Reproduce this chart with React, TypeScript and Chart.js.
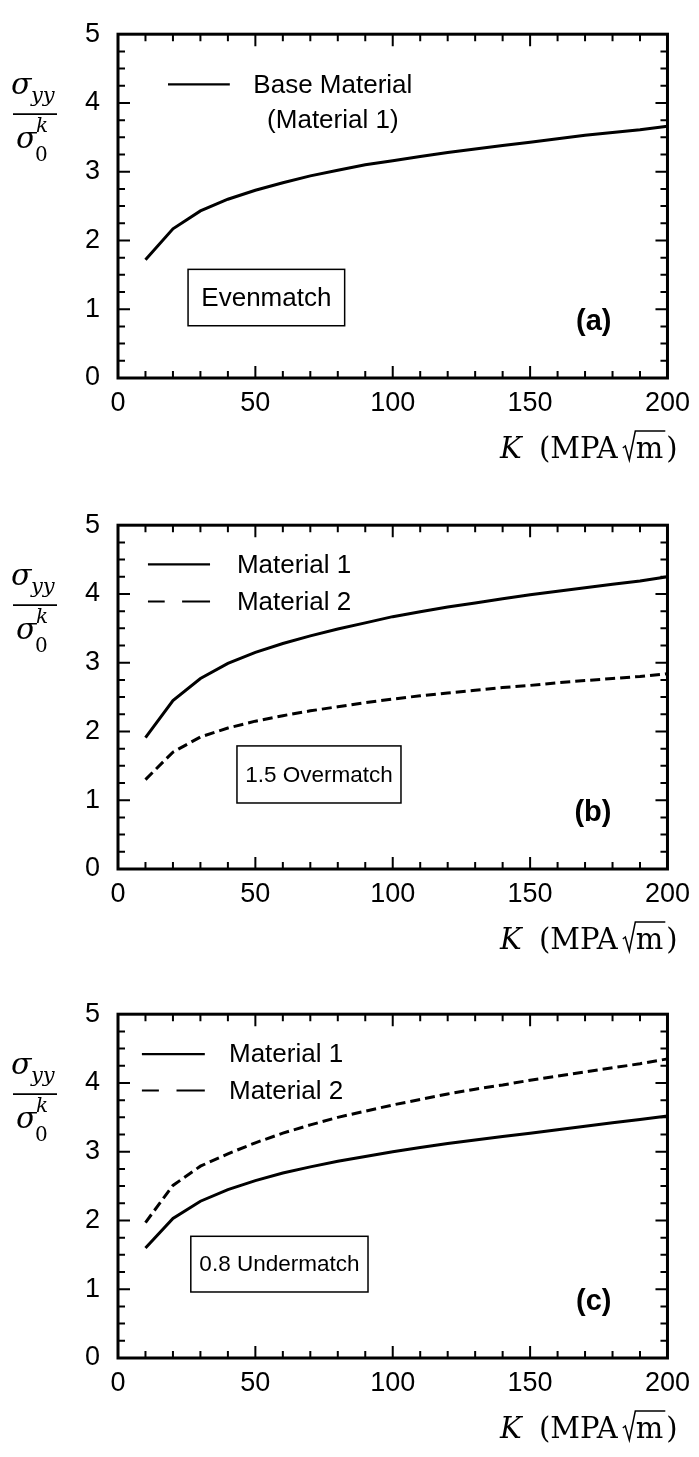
import React, { useEffect, useRef } from "react";
import { Chart, registerables } from "chart.js";

Chart.register(...registerables);

// ---------- data ----------
const kValues = [10, 20, 30, 40, 50, 60, 70, 80, 90, 100, 110, 120, 130, 140, 150, 160, 170, 180, 190, 200];

const evenBase = [1.72, 2.17, 2.43, 2.6, 2.73, 2.84, 2.94, 3.02, 3.1, 3.16, 3.22, 3.28, 3.33, 3.38, 3.43, 3.48, 3.53, 3.57, 3.61, 3.66];

const overM1 = [1.91, 2.45, 2.77, 2.99, 3.15, 3.28, 3.39, 3.49, 3.58, 3.67, 3.74, 3.81, 3.87, 3.93, 3.99, 4.04, 4.09, 4.14, 4.19, 4.25];
const overM2 = [1.3, 1.7, 1.92, 2.05, 2.15, 2.23, 2.3, 2.36, 2.42, 2.47, 2.52, 2.56, 2.6, 2.64, 2.67, 2.71, 2.74, 2.77, 2.8, 2.84];

const underM1 = [1.6, 2.03, 2.28, 2.45, 2.58, 2.69, 2.78, 2.86, 2.93, 3.0, 3.06, 3.12, 3.17, 3.22, 3.27, 3.32, 3.37, 3.42, 3.47, 3.52];
const underM2 = [1.97, 2.51, 2.79, 2.97, 3.13, 3.27, 3.39, 3.5, 3.59, 3.68, 3.76, 3.84, 3.91, 3.97, 4.04, 4.1, 4.16, 4.22, 4.28, 4.35];

const xTicks = [0, 50, 100, 150, 200];
const yTicks = [0, 1, 2, 3, 4, 5];

const panelLabels = ["(a)", "(b)", "(c)"];
const matchLabels = ["Evenmatch", "1.5 Overmatch", "0.8 Undermatch"];
const legendA = ["Base Material", "(Material 1)"];
const legendBC = ["Material 1", "Material 2"];

// ---------- layout ----------
const W = 699;
const H = 470;
const PLOT_TOP = 17;
const PLOT_H = 361;
const Y_AXIS_W = 118;
const RIGHT_PAD = 31;
const canvasTops = [0, 491, 980];

const SANS = "'Liberation Sans', Arial, Helvetica, sans-serif";
const SERIF = "'DejaVu Serif', 'Liberation Serif', serif";

type Series = { values: number[]; dashed: boolean };
type Panel = {
  series: Series[];
  label: string;
  box: { text: string; size: number; x1: number; x2: number; y1: number; y2: number };
  legend: (ctx: CanvasRenderingContext2D, xs: any, ys: any) => void;
};

function drawLegendLine(ctx: CanvasRenderingContext2D, x1: number, x2: number, y: number, dashed: boolean) {
  ctx.save();
  ctx.strokeStyle = "#000";
  ctx.lineWidth = 2.2;
  ctx.beginPath();
  if (dashed) {
    const len = x2 - x1;
    ctx.moveTo(x1, y);
    ctx.lineTo(x1 + len * 0.27, y);
    ctx.moveTo(x1 + len * 0.55, y);
    ctx.lineTo(x2, y);
  } else {
    ctx.moveTo(x1, y);
    ctx.lineTo(x2, y);
  }
  ctx.stroke();
  ctx.restore();
}

function twoLegend(lx1: number, lx2: number, ly1: number, ly2: number, tx: number) {
  return (ctx: CanvasRenderingContext2D, xs: any, ys: any) => {
    drawLegendLine(ctx, xs.getPixelForValue(lx1), xs.getPixelForValue(lx2), ys.getPixelForValue(ly1), false);
    drawLegendLine(ctx, xs.getPixelForValue(lx1), xs.getPixelForValue(lx2), ys.getPixelForValue(ly2), true);
    ctx.save();
    ctx.fillStyle = "#000";
    ctx.font = `26px ${SANS}`;
    ctx.textAlign = "left";
    ctx.textBaseline = "middle";
    ctx.fillText(legendBC[0], xs.getPixelForValue(tx), ys.getPixelForValue(ly1) + 1);
    ctx.fillText(legendBC[1], xs.getPixelForValue(tx), ys.getPixelForValue(ly2) + 1);
    ctx.restore();
  };
}

const panels: Panel[] = [
  {
    series: [{ values: evenBase, dashed: false }],
    label: panelLabels[0],
    box: { text: matchLabels[0], size: 26, x1: 25.5, x2: 82.5, y1: 1.58, y2: 0.76 },
    legend: (ctx, xs, ys) => {
      drawLegendLine(ctx, xs.getPixelForValue(18.2), xs.getPixelForValue(40.7), ys.getPixelForValue(4.27), false);
      ctx.save();
      ctx.fillStyle = "#000";
      ctx.font = `26px ${SANS}`;
      ctx.textAlign = "center";
      ctx.textBaseline = "middle";
      ctx.fillText(legendA[0], xs.getPixelForValue(78.2), ys.getPixelForValue(4.27) + 1);
      ctx.fillText(legendA[1], xs.getPixelForValue(78.2), ys.getPixelForValue(3.75) + 1);
      ctx.restore();
    },
  },
  {
    series: [
      { values: overM1, dashed: false },
      { values: overM2, dashed: true },
    ],
    label: panelLabels[1],
    box: { text: matchLabels[1], size: 22.5, x1: 43.3, x2: 103, y1: 1.79, y2: 0.96 },
    legend: twoLegend(10.9, 33.5, 4.43, 3.89, 43.3),
  },
  {
    series: [
      { values: underM1, dashed: false },
      { values: underM2, dashed: true },
    ],
    label: panelLabels[2],
    box: { text: matchLabels[2], size: 22.5, x1: 26.5, x2: 91, y1: 1.77, y2: 0.96 },
    legend: twoLegend(8.7, 31.6, 4.42, 3.89, 40.4),
  },
];

function makeDecor(panel: Panel) {
  return {
    id: "decor",
    afterDraw(chart: any) {
      const ctx: CanvasRenderingContext2D = chart.ctx;
      const a = chart.chartArea;
      const xs = chart.scales.x;
      const ys = chart.scales.y;
      ctx.save();
      ctx.strokeStyle = "#000";
      ctx.fillStyle = "#000";

      // inside ticks on all 4 sides
      ctx.lineWidth = 2;
      ctx.beginPath();
      for (let v = 10; v < 200; v += 10) {
        const px = xs.getPixelForValue(v);
        const len = v % 50 === 0 ? 12 : 7;
        ctx.moveTo(px, a.bottom);
        ctx.lineTo(px, a.bottom - len);
        ctx.moveTo(px, a.top);
        ctx.lineTo(px, a.top + len);
      }
      for (let v = 0.25; v < 5; v += 0.25) {
        const py = ys.getPixelForValue(v);
        const major = Math.abs(v - Math.round(v)) < 1e-6;
        const len = major ? 12 : 7;
        ctx.moveTo(a.left, py);
        ctx.lineTo(a.left + len, py);
        ctx.moveTo(a.right, py);
        ctx.lineTo(a.right - len, py);
      }
      ctx.stroke();

      // frame
      ctx.lineWidth = 3;
      ctx.strokeRect(a.left, a.top, a.right - a.left, a.bottom - a.top);

      // legend
      panel.legend(ctx, xs, ys);

      // annotation box
      const b = panel.box;
      const bx1 = xs.getPixelForValue(b.x1);
      const bx2 = xs.getPixelForValue(b.x2);
      const by1 = ys.getPixelForValue(b.y1);
      const by2 = ys.getPixelForValue(b.y2);
      ctx.lineWidth = 1.5;
      ctx.strokeRect(bx1, by1, bx2 - bx1, by2 - by1);
      ctx.font = `${b.size}px ${SANS}`;
      ctx.textAlign = "center";
      ctx.textBaseline = "middle";
      ctx.fillText(b.text, (bx1 + bx2) / 2, (by1 + by2) / 2 + 1);

      // panel label
      ctx.font = `bold 29px ${SANS}`;
      ctx.textAlign = "right";
      ctx.textBaseline = "alphabetic";
      ctx.fillText(panel.label, a.right - 56, a.bottom - 48);

      // y-axis title: sigma_yy / sigma_0^k
      const t = a.top;
      ctx.textAlign = "left";
      ctx.font = `italic 30px ${SERIF}`;
      ctx.fillText("σ", 11, t + 60);
      ctx.font = `italic 21px ${SERIF}`;
      ctx.fillText("yy", 31, t + 68);
      ctx.lineWidth = 1.8;
      ctx.beginPath();
      ctx.moveTo(13, t + 80);
      ctx.lineTo(57, t + 80);
      ctx.stroke();
      ctx.font = `italic 30px ${SERIF}`;
      ctx.fillText("σ", 16, t + 114);
      ctx.font = `italic 20px ${SERIF}`;
      ctx.fillText("k", 36, t + 98);
      ctx.font = `20px ${SERIF}`;
      ctx.fillText("0", 35, t + 127);

      // x-axis title: K (MPA sqrt(m))
      const base = a.bottom + 80;
      ctx.font = `italic 29px ${SERIF}`;
      ctx.fillText("K", 500, base);
      ctx.font = `29px ${SERIF}`;
      ctx.fillText("(MPA", 539, base);
      const x = 539 + ctx.measureText("(MPA").width + 5;
      const mW = ctx.measureText("m").width;
      ctx.lineWidth = 1.5;
      ctx.beginPath();
      ctx.moveTo(x, base - 10);
      ctx.lineTo(x + 2.5, base - 12);
      ctx.lineTo(x + 6.5, base + 2);
      ctx.lineTo(x + 12.5, base - 27);
      ctx.lineTo(x + 13 + mW + 2, base - 27);
      ctx.stroke();
      ctx.fillText("m", x + 13, base);
      ctx.fillText(")", x + 13 + mW + 3, base);

      ctx.restore();
    },
  };
}

function PanelChart({ panel, top }: { panel: Panel; top: number }) {
  const ref = useRef<HTMLCanvasElement | null>(null);
  useEffect(() => {
    if (!ref.current) return;
    const chart = new Chart(ref.current, {
      type: "line",
      data: {
        datasets: panel.series.map((s) => ({
          data: kValues.map((k, i) => ({ x: k, y: s.values[i] })),
          borderColor: "#000",
          borderWidth: 3,
          borderDash: s.dashed ? [10, 5] : [],
          pointRadius: 0,
          tension: 0,
          fill: false,
        })),
      },
      options: {
        responsive: false,
        animation: false,
        events: [],
        layout: { padding: { top: PLOT_TOP, right: RIGHT_PAD, left: 0, bottom: 0 } },
        plugins: { legend: { display: false }, tooltip: { enabled: false } },
        scales: {
          x: {
            type: "linear",
            min: 0,
            max: 200,
            border: { display: false },
            grid: { display: false, drawTicks: false },
            afterBuildTicks: (scale: any) => {
              scale.ticks = xTicks.map((v) => ({ value: v }));
            },
            afterFit: (scale: any) => {
              scale.height = H - PLOT_TOP - PLOT_H;
            },
            ticks: {
              color: "#000",
              padding: 9,
              maxRotation: 0,
              autoSkip: false,
              font: { family: SANS, size: 27 },
              callback: (v: any) => String(v),
            },
          },
          y: {
            type: "linear",
            min: 0,
            max: 5,
            border: { display: false },
            grid: { display: false, drawTicks: false },
            afterBuildTicks: (scale: any) => {
              scale.ticks = yTicks.map((v) => ({ value: v }));
            },
            afterFit: (scale: any) => {
              scale.width = Y_AXIS_W;
            },
            ticks: {
              color: "#000",
              padding: 18,
              autoSkip: false,
              font: { family: SANS, size: 27 },
              callback: (v: any) => String(v),
            },
          },
        },
      },
      plugins: [makeDecor(panel)],
    } as any);
    return () => chart.destroy();
  }, [panel]);
  return (
    <canvas
      ref={ref}
      width={W}
      height={H}
      style={{ position: "absolute", left: 0, top, width: W, height: H, display: "block" }}
    />
  );
}

export default function App() {
  useEffect(() => {
    document.body.style.margin = "0";
    document.body.style.background = "#fff";
  }, []);
  return (
    <div style={{ position: "relative", width: W, height: 1457, overflow: "hidden", background: "#fff" }}>
      {panels.map((p, i) => (
        <PanelChart key={i} panel={p} top={canvasTops[i]} />
      ))}
    </div>
  );
}
